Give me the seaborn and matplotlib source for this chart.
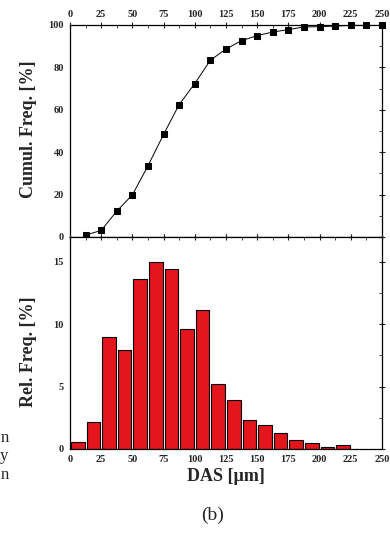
import numpy as np
import matplotlib
matplotlib.use("Agg")
import matplotlib.pyplot as plt
from matplotlib.ticker import MultipleLocator
import seaborn as sns

# Data
bin_edges = [0, 12.5, 25, 37.5, 50, 62.5, 75, 87.5, 100, 112.5, 125, 137.5,
             150, 162.5, 175, 187.5, 200, 212.5, 225]
rel_freq = [0.55, 2.15, 9.0, 7.9, 13.6, 15.0, 14.4, 9.65, 11.15, 5.25, 3.9,
            2.35, 1.95, 1.3, 0.75, 0.45, 0.2, 0.3]
cum_x = [12.5, 25, 37.5, 50, 62.5, 75, 87.5, 100, 112.5, 125, 137.5, 150,
         162.5, 175, 187.5, 200, 212.5, 225, 237.5, 250]
cum_freq = [0.9, 3.1, 12.2, 19.9, 33.6, 48.4, 62.5, 72.4, 83.4, 88.7, 92.6,
            95.0, 96.7, 97.8, 99.1, 99.2, 99.5, 99.8, 99.8, 99.8]
x_ticks = [0, 25, 50, 75, 100, 125, 150, 175, 200, 225, 250]

sns.set_style("white")
plt.rcParams['font.family'] = ['Liberation Serif', 'DejaVu Serif']

fig = plt.figure(figsize=(3.9, 5.4), dpi=100)
ax1 = fig.add_axes([70/390, 1-237/540, 312/390, 212/540])
ax2 = fig.add_axes([70/390, 1-449/540, 312/390, 212/540])

centers = [(bin_edges[i] + bin_edges[i+1]) / 2 for i in range(len(rel_freq))]
sns.histplot(x=centers, weights=rel_freq, bins=bin_edges, shrink=0.86,
             color='#e3161b', edgecolor='black', linewidth=0.8, alpha=1.0, ax=ax2)

sns.lineplot(x=cum_x, y=cum_freq, color='black', linewidth=0.7, marker='s',
             markersize=4.5, markeredgecolor='black', ax=ax1, clip_on=False)

for ax in (ax1, ax2):
    ax.set_xlim(0, 250)
    ax.set_xticks(x_ticks)
    ax.xaxis.set_minor_locator(MultipleLocator(12.5))
    for s in ax.spines.values():
        s.set_visible(True)
        s.set_color('black')
        s.set_linewidth(0.9)
    ax.tick_params(which='major', direction='inout', length=5, width=0.8,
                   labelsize=7.5, right=True, top=True, pad=2)
    ax.tick_params(which='minor', direction='in', length=2.5, width=0.6,
                   right=True, top=True)

ax1.set_ylim(0, 100)
ax1.set_yticks([0, 20, 40, 60, 80, 100])
ax1.yaxis.set_minor_locator(MultipleLocator(10))
ax1.tick_params(labelbottom=False, labeltop=True, bottom=True)
ax1.set_ylabel('Cumul. Freq. [%]', fontsize=13, fontweight='bold')
ax1.yaxis.set_label_coords(-0.105, 0.51)
ax1.set_xlabel('')
for lbl in ax1.get_xticklabels() + ax1.get_yticklabels():
    lbl.set_fontweight('bold')

ax2.set_ylim(0, 17)
ax2.set_yticks([0, 5, 10, 15])
ax2.yaxis.set_minor_locator(MultipleLocator(2.5))
ax2.set_ylabel('Rel. Freq. [%]', fontsize=13, fontweight='bold')
ax2.yaxis.set_label_coords(-0.105, 0.46)
ax2.set_xlabel('DAS [µm]', fontsize=13, fontweight='bold', labelpad=3)
for lbl in ax2.get_xticklabels() + ax2.get_yticklabels():
    lbl.set_fontweight('bold')

fig.text(213/390, 1-515/540, '(b)', ha='center', va='center', fontsize=14)
for ch, yy in (('n', 438), ('y', 456), ('n', 475)):
    fig.text(0.022, 1-yy/540, ch, ha='right', va='center', fontsize=12)

fig.savefig('out.png', dpi=100, facecolor='white')
